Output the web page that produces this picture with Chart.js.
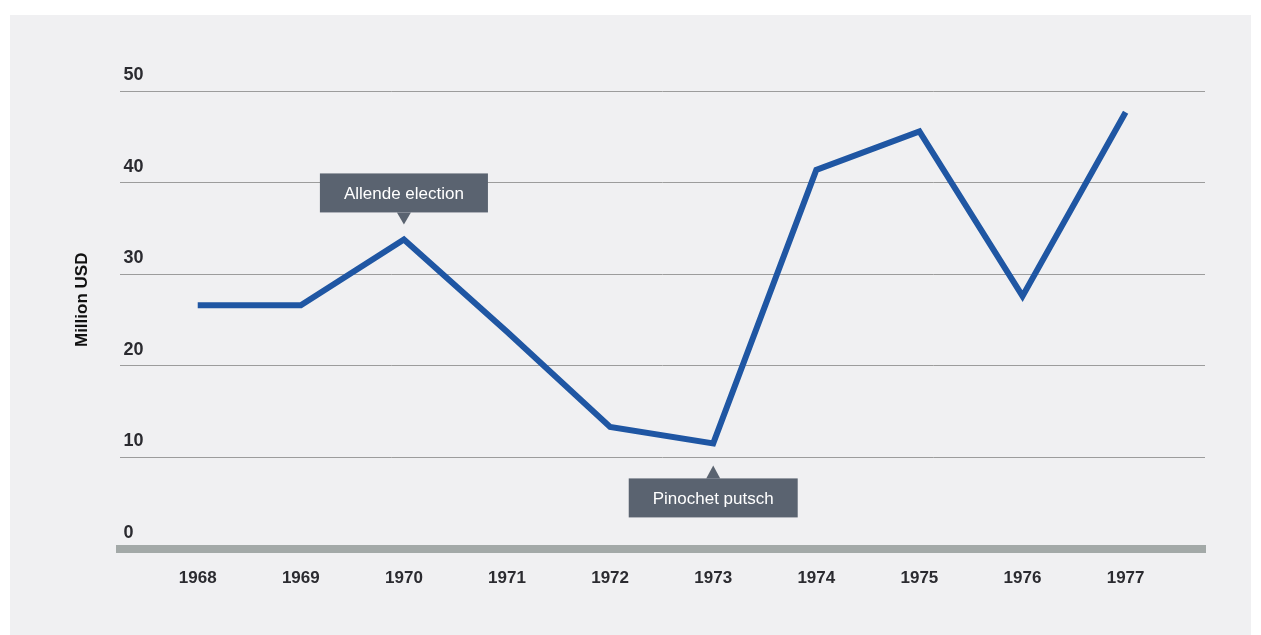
<!DOCTYPE html>
<html>
<head>
<meta charset="utf-8">
<script src="https://cdn.jsdelivr.net/npm/chart.js@4.4.1/dist/chart.umd.min.js"></script>
<style>
  html, body { margin: 0; padding: 0; background: #ffffff; }
  #wrap { position: absolute; left: 10px; top: 15px; width: 1241px; height: 620px; background: #f0f0f2; }
</style>
</head>
<body>
<div id="wrap"><canvas id="aidChart"></canvas></div>
<script>
// US aid to Chile, million USD
const years = [1968, 1969, 1970, 1971, 1972, 1973, 1974, 1975, 1976, 1977];
const aid = [26.6, 26.6, 33.8, 23.7, 13.3, 11.5, 41.4, 45.6, 27.6, 47.7];
const yTicks = [0, 10, 20, 30, 40, 50];

// callouts: [year, label, above/below]
const notes = [
  { year: 1970, text: 'Allende election', side: 'above' },
  { year: 1973, text: 'Pinochet putsch', side: 'below' }
];

const FONT = '"Liberation Sans", Arial, sans-serif';

const calloutPlugin = {
  id: 'callouts',
  afterDatasetsDraw(chart) {
    const ctx = chart.ctx;
    const xs = chart.scales.x, ys = chart.scales.y;
    ctx.save();
    ctx.font = '17px ' + FONT;
    notes.forEach(n => {
      const val = aid[years.indexOf(n.year)];
      const px = xs.getPixelForValue(n.year);
      const py = ys.getPixelForValue(val);
      const w = ctx.measureText(n.text).width + 48;
      const h = 39;
      let tip, boxTop;
      if (n.side === 'above') {
        tip = py - 15;
        boxTop = tip - 12 - h;
      } else {
        tip = py + 22;
        boxTop = tip + 13;
      }
      ctx.fillStyle = '#5a6370';
      ctx.fillRect(px - w / 2, boxTop, w, h);
      ctx.beginPath();
      if (n.side === 'above') {
        ctx.moveTo(px - 7, boxTop + h);
        ctx.lineTo(px + 7, boxTop + h);
      } else {
        ctx.moveTo(px - 7, boxTop);
        ctx.lineTo(px + 7, boxTop);
      }
      ctx.lineTo(px, tip);
      ctx.closePath();
      ctx.fill();
      ctx.fillStyle = '#ffffff';
      ctx.textAlign = 'center';
      ctx.textBaseline = 'middle';
      ctx.fillText(n.text, px, boxTop + h / 2 + 1);
    });
    ctx.restore();
  }
};

new Chart(document.getElementById('aidChart'), {
  type: 'line',
  data: {
    datasets: [{
      label: 'Million USD',
      data: years.map((yr, i) => ({ x: yr, y: aid[i] })),
      borderColor: '#1f56a3',
      borderWidth: 6,
      pointRadius: 0,
      tension: 0,
      fill: false
    }]
  },
  options: {
    responsive: true,
    maintainAspectRatio: false,
    animation: false,
    layout: { padding: { left: 62, right: 46, top: 36, bottom: 34 } },
    plugins: {
      legend: { display: false },
      tooltip: { enabled: false }
    },
    scales: {
      x: {
        type: 'linear',
        min: 1967.25,
        max: 1977.77,
        afterBuildTicks: axis => { axis.ticks = years.map(v => ({ value: v })); },
        grid: { display: false },
        border: { display: true, color: '#a3a9a8', width: 8 },
        ticks: {
          padding: 12,
          maxRotation: 0,
          color: '#2b2b30',
          font: { family: FONT, size: 17, weight: 'bold' },
          callback: v => String(v)
        }
      },
      y: {
        min: 0,
        max: 54.4,
        afterBuildTicks: axis => { axis.ticks = yTicks.map(v => ({ value: v })); },
        grid: { color: '#9c9c9c', lineWidth: 1, drawTicks: false },
        border: { display: false },
        ticks: {
          mirror: true,
          padding: 3,
          labelOffset: -16,
          color: '#2b2b30',
          font: { family: FONT, size: 18, weight: 'bold' }
        },
        title: {
          display: true,
          text: 'Million USD',
          color: '#111111',
          padding: { top: 0, bottom: 22 },
          font: { family: FONT, size: 17, weight: 'bold' }
        }
      }
    }
  },
  plugins: [calloutPlugin]
});
</script>
</body>
</html>
